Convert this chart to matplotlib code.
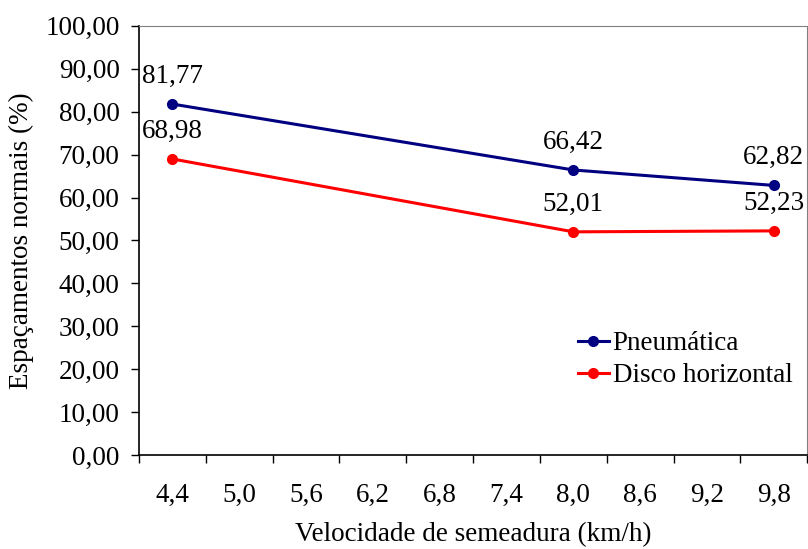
import matplotlib.pyplot as plt
from matplotlib.ticker import FixedLocator, NullFormatter

plt.rcParams["font.family"] = ["Liberation Serif", "DejaVu Serif"]

# category axis (Excel style): labels sit between tick marks
categories = ["4,4", "5,0", "5,6", "6,2", "6,8", "7,4", "8,0", "8,6", "9,2", "9,8"]
sample_x = ["4,4", "8,0", "9,8"]
pneumatica = [81.77, 66.42, 62.82]
disco = [68.98, 52.01, 52.23]
series_names = ["Pneumática", "Disco horizontal"]
series_colors = ["#000080", "#FF0000"]
yticks = [0, 10, 20, 30, 40, 50, 60, 70, 80, 90, 100]

FS = 19.5


def fmt(v, nd=2):
    return f"{v:.{nd}f}".replace(".", ",")


fig = plt.figure(figsize=(8.08, 5.49), dpi=100)
ax = fig.add_axes([0.172, 0.171, 0.827, 0.782])

xpos = [categories.index(c) for c in sample_x]
for vals, name, col in zip([pneumatica, disco], series_names, series_colors):
    ax.plot(xpos, vals, color=col, lw=2.2, marker="o", ms=7, label=name)
    for x, v in zip(xpos, vals):
        ax.annotate(fmt(v), (x, v), xytext=(0, 11), textcoords="offset points",
                    ha="center", va="bottom", fontsize=FS)

ax.set_xlim(-0.5, len(categories) - 0.5)
ax.set_ylim(0, 100)

# major ticks on category boundaries, labels on minor ticks at centres
ax.xaxis.set_major_locator(FixedLocator([i - 0.5 for i in range(len(categories) + 1)]))
ax.xaxis.set_major_formatter(NullFormatter())
ax.xaxis.set_minor_locator(FixedLocator(range(len(categories))))
ax.set_xticklabels(categories, minor=True)
ax.tick_params(axis="x", which="major", length=6, width=1, direction="out")
ax.tick_params(axis="x", which="minor", length=0, pad=20, labelsize=FS)

ax.set_yticks(yticks)
ax.set_yticklabels([fmt(v) for v in yticks])
ax.tick_params(axis="y", length=6, width=1, direction="out", pad=8, labelsize=FS)

for side in ["top", "right"]:
    ax.spines[side].set_color("#808080")
for side in ["left", "bottom"]:
    ax.spines[side].set_color("black")
    ax.spines[side].set_linewidth(1.2)

ax.set_xlabel("Velocidade de semeadura (km/h)", fontsize=FS, labelpad=10)
ax.set_ylabel("Espaçamentos normais (%)", fontsize=FS, labelpad=8)

ax.legend(loc="upper left", bbox_to_anchor=(0.636, 0.32), frameon=False,
          fontsize=FS, handlelength=1.15, handletextpad=0.15, borderpad=0,
          labelspacing=0.25)

fig.savefig("out.png", dpi=100)
